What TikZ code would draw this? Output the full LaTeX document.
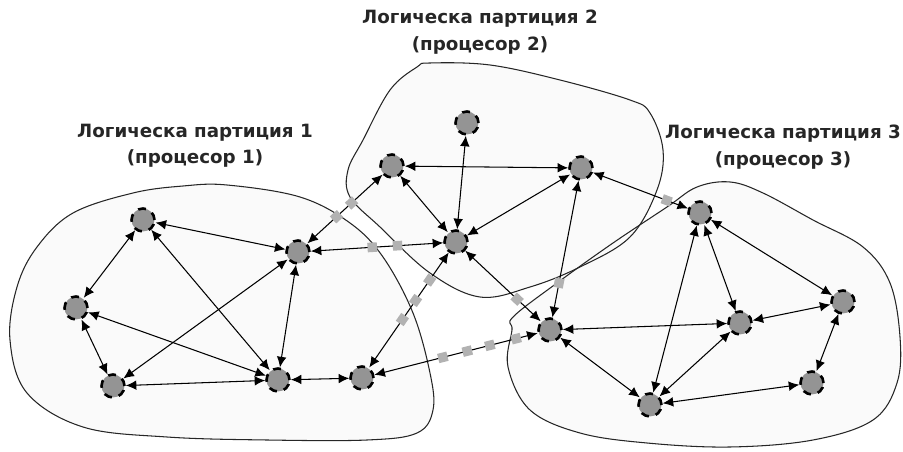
\documentclass[tikz,border=0pt]{standalone}
\usepackage{fontspec}
\setmainfont{DejaVu Sans}
\usetikzlibrary{arrows.meta, calc}

\begin{document}
\begin{tikzpicture}[x=0.02cm, y=-0.02cm,
every node/.style = {align=center, color=black},
proc/.style = {shape=circle, minimum size=0.46cm, inner sep=0pt,
  fill=black!42, draw=black, line width=1.5pt, dash pattern=on 4.5pt off 4pt},
link/.style = {draw, line width=0.6pt,
  {Latex[length=6pt,width=5.5pt]}-{Latex[length=6pt,width=5.5pt]}},
cutmark/.style = {shape=rectangle, minimum size=0.19cm, inner sep=0pt,
  fill=black!30, sloped},
part/.style = {draw=black!85, line width=0.6pt},
title/.style = {font=\fontsize{10.4}{15}\selectfont\bfseries, text=black!85}]
%
\useasboundingbox (0,0) rectangle (903,452);
%
% the three partitions
\def\partone{(183,186) (227,185) (300,197) (350,223) (383,257) (413,313)
  (430,373) (433,410) (417,433) (367,440) (267,440) (167,437) (83,427)
  (27,393) (10,340) (17,287) (37,247) (73,213) (133,193)}
\def\parttwo{(430,63) (490,65) (560,80) (630,100) (650,113) (663,150)
  (657,190) (630,237) (580,267) (530,287) (480,297) (430,273) (380,227)
  (350,197) (348,170) (363,140) (390,90) (417,67)}
\def\partthree{(512,330) (508,367) (530,410) (580,433) (647,443) (730,447)
  (813,440) (873,420) (897,383) (900,337) (890,283) (863,247) (813,220)
  (763,193) (730,182) (697,187) (667,207) (613,243) (557,283) (513,317)}
\fill[black!2] plot[smooth cycle, tension=0.6] coordinates {\partone};
\fill[black!2] plot[smooth cycle, tension=0.6] coordinates {\parttwo};
\fill[black!2] plot[smooth cycle, tension=0.6] coordinates {\partthree};
\draw[part] plot[smooth cycle, tension=0.6] coordinates {\partone};
\draw[part] plot[smooth cycle, tension=0.6] coordinates {\parttwo};
\draw[part] plot[smooth cycle, tension=0.6] coordinates {\partthree};
%
% labels
\node[title] (lbl1) at (195,146) {Логическа партиция 1\\(процесор 1)};
\node[title] (lbl2) at (480,32) {Логическа партиция 2\\(процесор 2)};
\node[title] (lbl3) at (783,147) {Логическа партиция 3\\(процесор 3)};
%
% processes
\node[proc] (a1) at (143,220) {};
\node[proc] (a2) at (298,252) {};
\node[proc] (a3) at (76,308) {};
\node[proc] (a4) at (113,386) {};
\node[proc] (a5) at (278,380) {};
\node[proc] (a6) at (362,378) {};
\node[proc] (b1) at (467,123) {};
\node[proc] (b2) at (392,166) {};
\node[proc] (b3) at (581,168) {};
\node[proc] (b4) at (456,242) {};
\node[proc] (c1) at (550,330) {};
\node[proc] (c2) at (700,213) {};
\node[proc] (c3) at (740,323) {};
\node[proc] (c4) at (843,302) {};
\node[proc] (c5) at (650,405) {};
\node[proc] (c6) at (812,383) {};
%
% links inside a partition
\foreach \u/\v in {a1/a2, a1/a3, a1/a5, a2/a4, a2/a5, a3/a4, a3/a5, a4/a5,
  a5/a6, b2/b3, b1/b4, b2/b4, b3/b4, c1/c3, c1/c5, c2/c5, c3/c5, c2/c3,
  c2/c4, c3/c4, c4/c6, c5/c6}
  \draw[link] (\u) -- (\v);
%
% links between partitions, with their cut marks
\foreach \u/\v/\marks in {a2/b2/{0.41,0.57}, a2/b4/{0.47,0.63},
  a6/b4/{0.43,0.57,0.72}, a6/c1/{0.43,0.56,0.68,0.82}, b4/c1/{0.65},
  b3/c1/{0.71}, b3/c2/{0.72}}
{
  \draw[link] (\u) -- (\v);
  \foreach \t in \marks
    \path (\u.center) -- (\v.center) node[cutmark, pos=\t] {};
}
\end{tikzpicture}
\end{document}
